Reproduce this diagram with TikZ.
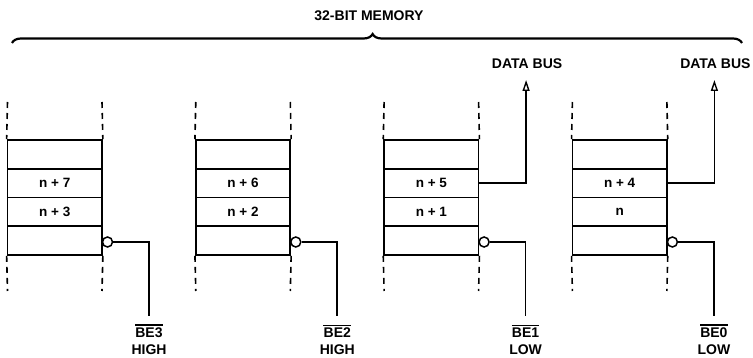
\documentclass[tikz,border=0pt]{standalone}
\usepackage{fontspec}
\setmainfont{Liberation Sans}
\usetikzlibrary{arrows.meta,decorations.pathreplacing}
\tikzset{
  cell/.style={draw, line width=1.7pt, minimum width=94.5pt, minimum height=28.75pt, inner sep=0pt,
     font=\fontsize{13.5}{15}\selectfont\bfseries},
  bubble/.style={draw, circle, line width=1.5pt, minimum size=10pt, inner sep=0pt, fill=white},
  wire/.style={line width=1.7pt},
  dashline/.style={line width=1.6pt, dash pattern=on 6pt off 5pt},
  lbl/.style={font=\fontsize{14}{17}\selectfont\bfseries, inner sep=0pt},
  busarrow/.style={wire, -{Triangle[open, length=11pt, width=7pt, line width=1.4pt]}}
}
\begin{document}
\begin{tikzpicture}[x=1pt,y=-1pt]
\useasboundingbox (0,0) rectangle (753,358);
% brace
\coordinate (bl) at (12,43);
\coordinate (br) at (742,43);
\draw[line width=2.2pt, decorate, decoration={brace, amplitude=9pt, aspect=0.494}] (bl) -- (br);
\node[lbl] (title) at (369,16) {32-BIT MEMORY};

\foreach \i/\ta/\tb/\be/\lev in {0/n + 7/n + 3/BE3/HIGH, 1/n + 6/n + 2/BE2/HIGH, 2/n + 5/n + 1/BE1/LOW, 3/n + 4/n/BE0/LOW}{
  \pgfmathsetmacro{\L}{7.5+188.3*\i}
  \pgfmathsetmacro{\C}{\L+47.25}
  \pgfmathsetmacro{\R}{\L+94.5}
  \pgfmathsetmacro{\S}{\R+47}
  \node[cell] (a\i) at (\C,154.4) {};
  \node[cell] (b\i) at (\C,183.1) {\ta};
  \node[cell] (c\i) at (\C,211.9) {\tb};
  \node[cell] (d\i) at (\C,240.6) {};
  % dashed continuation
  \coordinate (tl\i) at (\L,102);
  \coordinate (tr\i) at (\R,102);
  \coordinate (bl\i) at (\L,291);
  \coordinate (br\i) at (\R,291);
  \draw[dashline] (tl\i) -- (a\i.north west);
  \draw[dashline] (tr\i) -- (a\i.north east);
  \draw[dashline] (d\i.south west) -- (bl\i);
  \draw[dashline] (d\i.south east) -- (br\i);
  % byte enable
  \node[bubble] (o\i) at (\R+5.5,242) {};
  \coordinate (s\i) at (\S,316);
  \draw[wire] (o\i.east) -| (s\i);
  \node[lbl] (be\i) at (\S,333) {\be};
  \draw[line width=1.5pt] ([yshift=2.6pt]be\i.north west) -- ([yshift=2.6pt]be\i.north east);
  \node[lbl] (lv\i) at (\S,349.5) {\lev};
}
% data bus
\foreach \i in {2,3}{
  \pgfmathsetmacro{\X}{7.5+188.3*\i+94.5+47.5}
  \coordinate (db\i) at (\X,80);
  \draw[busarrow] (b\i.east) -| (db\i);
  \node[lbl] (dl\i) at (\X+1,64) {DATA BUS};
}
\end{tikzpicture}
\end{document}
